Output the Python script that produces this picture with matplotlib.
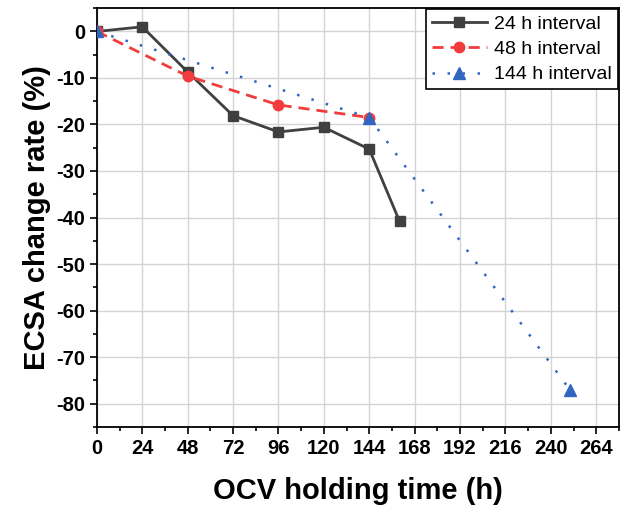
import matplotlib.pyplot as plt
from matplotlib.ticker import MultipleLocator

plt.rcParams['font.family'] = ['Liberation Sans', 'DejaVu Sans']
plt.rcParams['axes.unicode_minus'] = False

# data
t_24 = [0, 24, 48, 72, 96, 120, 144, 160]
ecsa_24 = [0, 1.0, -8.7, -18.1, -21.6, -20.6, -25.3, -40.8]
t_48 = [0, 48, 96, 144]
ecsa_48 = [0, -9.6, -15.8, -18.5]
t_144 = [0, 144, 250]
ecsa_144 = [0, -18.5, -77.0]
labels = ["24 h interval", "48 h interval", "144 h interval"]

fig = plt.figure(figsize=(6.29, 5.13), dpi=100)
ax = fig.add_axes([0.154, 0.168, 0.83, 0.816])

ax.plot(t_24, ecsa_24, color="#404040", lw=2, marker="s", ms=7,
        label=labels[0], zorder=3)
ax.plot(t_48, ecsa_48, color="#f03c3c", lw=2, ls=(0, (4, 2.5)), marker="o", ms=7.5,
        label=labels[1], zorder=3)
ax.plot(t_144, ecsa_144, color="#3166c0", lw=1.8, ls=(0, (1, 5)), marker="^", ms=8,
        label=labels[2], zorder=3)

ax.set_xlim(0, 276)
ax.set_ylim(-85, 5)
ax.xaxis.set_major_locator(MultipleLocator(24))
ax.xaxis.set_minor_locator(MultipleLocator(12))
ax.yaxis.set_major_locator(MultipleLocator(10))
ax.yaxis.set_minor_locator(MultipleLocator(5))
ax.grid(True, which="major", color="#d4d4d4", lw=1, zorder=0)
ax.set_axisbelow(True)

ax.tick_params(which="major", direction="out", length=5, width=1.2, labelsize=14.5)
ax.tick_params(which="minor", direction="out", length=3, width=1.2)
for lab in ax.get_xticklabels() + ax.get_yticklabels():
    lab.set_fontweight("bold")
for s in ax.spines.values():
    s.set_linewidth(1.3)

ax.set_xlabel("OCV holding time (h)", fontsize=21, fontweight="bold", labelpad=14)
ax.set_ylabel("ECSA change rate (%)", fontsize=21, fontweight="bold", labelpad=4)

leg = ax.legend(loc="upper right", fontsize=14, frameon=True, fancybox=False,
                edgecolor="black", framealpha=1, borderaxespad=0.05,
                handlelength=2.8, borderpad=0.3, labelspacing=0.4, handletextpad=0.4)
leg.get_frame().set_linewidth(1.2)

fig.savefig("out.png", dpi=100)
